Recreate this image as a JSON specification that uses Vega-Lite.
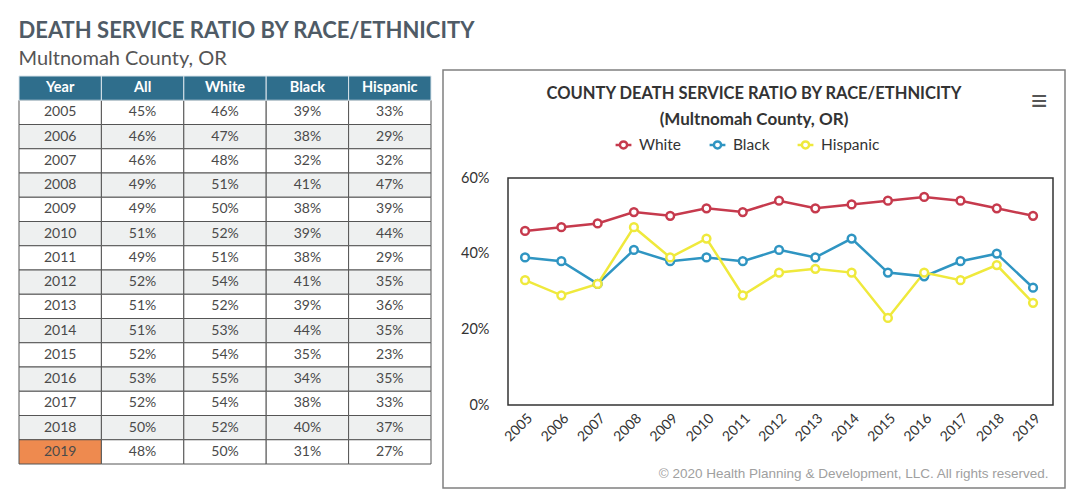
{
  "$schema": "https://vega.github.io/schema/vega-lite/v6.json",
  "background": "white",
  "padding": {"left": 18, "top": 20, "right": 20, "bottom": 12},
  "title": {
    "text": "DEATH SERVICE RATIO BY RACE/ETHNICITY",
    "subtitle": "Multnomah County, OR",
    "anchor": "start",
    "font": "Lato",
    "fontSize": 22,
    "fontWeight": "bold",
    "color": "#4f5b66",
    "subtitleFont": "Lato",
    "subtitleFontSize": 20,
    "subtitleColor": "#555555",
    "subtitlePadding": 6,
    "offset": -1
  },
  "datasets": {
    "rates": [
      {"Year": 2005, "All": 0.45, "White": 0.46, "Black": 0.39, "Hispanic": 0.33},
      {"Year": 2006, "All": 0.46, "White": 0.47, "Black": 0.38, "Hispanic": 0.29},
      {"Year": 2007, "All": 0.46, "White": 0.48, "Black": 0.32, "Hispanic": 0.32},
      {"Year": 2008, "All": 0.49, "White": 0.51, "Black": 0.41, "Hispanic": 0.47},
      {"Year": 2009, "All": 0.49, "White": 0.50, "Black": 0.38, "Hispanic": 0.39},
      {"Year": 2010, "All": 0.51, "White": 0.52, "Black": 0.39, "Hispanic": 0.44},
      {"Year": 2011, "All": 0.49, "White": 0.51, "Black": 0.38, "Hispanic": 0.29},
      {"Year": 2012, "All": 0.52, "White": 0.54, "Black": 0.41, "Hispanic": 0.35},
      {"Year": 2013, "All": 0.51, "White": 0.52, "Black": 0.39, "Hispanic": 0.36},
      {"Year": 2014, "All": 0.51, "White": 0.53, "Black": 0.44, "Hispanic": 0.35},
      {"Year": 2015, "All": 0.52, "White": 0.54, "Black": 0.35, "Hispanic": 0.23},
      {"Year": 2016, "All": 0.53, "White": 0.55, "Black": 0.34, "Hispanic": 0.35},
      {"Year": 2017, "All": 0.52, "White": 0.54, "Black": 0.38, "Hispanic": 0.33},
      {"Year": 2018, "All": 0.50, "White": 0.52, "Black": 0.40, "Hispanic": 0.37},
      {"Year": 2019, "All": 0.48, "White": 0.50, "Black": 0.31, "Hispanic": 0.27}
    ],
    "header": [
      {"h": "Year"}, {"h": "All"}, {"h": "White"}, {"h": "Black"}, {"h": "Hispanic"}
    ]
  },
  "spacing": 10,
  "hconcat": [
    {
      "width": 412,
      "height": 394,
      "view": {"stroke": null},
      "layer": [
        {
          "data": {"name": "rates"},
          "transform": [{"fold": ["Year", "All", "White", "Black", "Hispanic"], "as": ["col", "val"]}],
          "mark": {"type": "rect", "stroke": "#555555", "strokeWidth": 1},
          "encoding": {
            "x": {"field": "col", "type": "nominal",
              "scale": {"domain": ["Year", "All", "White", "Black", "Hispanic"], "paddingInner": 0, "paddingOuter": 0},
              "axis": null},
            "y": {"field": "Year", "type": "ordinal",
              "scale": {"domain": ["Year", 2005, 2006, 2007, 2008, 2009, 2010, 2011, 2012, 2013, 2014, 2015, 2016, 2017, 2018, 2019], "range": [6, 394], "paddingInner": 0, "paddingOuter": 0},
              "axis": null},
            "fill": {
              "condition": [
                {"test": "datum.col == 'Year' && datum.Year == 2019", "value": "#ee8a4f"},
                {"test": "datum.Year % 2 == 0", "value": "#eef0f0"}
              ],
              "value": "#ffffff"
            }
          }
        },
        {
          "data": {"name": "rates"},
          "mark": {"type": "text", "font": "Lato", "fontSize": 14, "color": "#4a4a4a"},
          "encoding": {
            "x": {"datum": "Year", "type": "nominal"},
            "y": {"field": "Year", "type": "ordinal"},
            "text": {"field": "Year", "type": "ordinal"}
          }
        },
        {
          "data": {"name": "rates"},
          "transform": [{"fold": ["All", "White", "Black", "Hispanic"], "as": ["col", "val"]}],
          "mark": {"type": "text", "font": "Lato", "fontSize": 14, "color": "#4a4a4a"},
          "encoding": {
            "x": {"field": "col", "type": "nominal"},
            "y": {"field": "Year", "type": "ordinal"},
            "text": {"field": "val", "type": "quantitative", "format": ".0%"}
          }
        },
        {
          "data": {"name": "header"},
          "mark": {"type": "rect", "fill": "#2f6e8c", "stroke": "#d8e3ea", "strokeWidth": 1},
          "encoding": {
            "x": {"field": "h", "type": "nominal"},
            "y": {"datum": "Year", "type": "ordinal"}
          }
        },
        {
          "data": {"name": "header"},
          "mark": {"type": "text", "font": "Lato", "fontSize": 14.5, "fontWeight": "bold", "color": "#ffffff"},
          "encoding": {
            "x": {"field": "h", "type": "nominal"},
            "y": {"datum": "Year", "type": "ordinal"},
            "text": {"field": "h", "type": "nominal"}
          }
        }
      ]
    },
    {
      "width": 622,
      "height": 418,
      "view": {"stroke": "#808080", "strokeWidth": 1.5},
      "title": {
        "text": "COUNTY DEATH SERVICE RATIO BY RACE/ETHNICITY",
        "subtitle": "(Multnomah County, OR)",
        "offset": -58,
        "anchor": "middle",
        "frame": "group",
        "font": "Lato",
        "fontSize": 16.5,
        "fontWeight": "bold",
        "color": "#333333",
        "subtitleFont": "Lato",
        "subtitleFontSize": 17,
        "subtitleFontWeight": "bold",
        "subtitleColor": "#333333",
        "subtitlePadding": 10
      },
      "layer": [
        {
          "data": {"values": [{}]},
          "mark": {"type": "rect", "fill": null, "stroke": "#333333", "strokeWidth": 1.5},
          "encoding": {
            "x": {"datum": 2004.53, "type": "quantitative", "scale": {"domain": [2004.53, 2019.55], "range": [65, 610], "nice": false, "zero": false}},
            "x2": {"datum": 2019.55},
            "y": {"datum": 0, "type": "quantitative", "scale": {"domain": [0, 0.6], "range": [335, 108], "nice": false, "zero": false}},
            "y2": {"datum": 0.6}
          }
        },
        {
          "data": {"name": "rates"},
          "transform": [{"fold": ["White", "Black", "Hispanic"], "as": ["group", "val"]}],
          "mark": {"type": "line", "strokeWidth": 2.5, "point": {"filled": false, "fill": "white", "size": 60, "strokeWidth": 2.5}},
          "encoding": {
            "x": {"field": "Year", "type": "quantitative",
              "scale": {"domain": [2004.53, 2019.55], "range": [65, 610], "nice": false, "zero": false},
              "axis": {"orient": "bottom", "offset": -83, "values": [2005, 2006, 2007, 2008, 2009, 2010, 2011, 2012, 2013, 2014, 2015, 2016, 2017, 2018, 2019],
                "format": "d", "labelAngle": -45, "labelFont": "Lato", "labelFontSize": 14, "labelColor": "#333333",
                "ticks": false, "domain": false, "grid": false, "labelPadding": 6,
                "title": "© 2020 Health Planning & Development, LLC. All rights reserved.",
                "titleX": 605, "titleAlign": "right", "titleFont": "Liberation Sans", "titleFontSize": 13.5, "titleFontWeight": "normal",
                "titleColor": "#a0a0a0", "titleBaseline": "middle", "titleY": 68}},
            "y": {"field": "val", "type": "quantitative",
              "scale": {"domain": [0, 0.6], "range": [335, 108], "nice": false, "zero": false},
              "axis": {"orient": "left", "offset": -65, "values": [0, 0.2, 0.4, 0.6], "format": ".0%",
                "ticks": false, "domain": false, "grid": false, "labelPadding": 19,
                "labelFont": "Lato", "labelFontSize": 14.5, "labelColor": "#333333", "title": null}},
            "color": {"field": "group", "type": "nominal",
              "scale": {"domain": ["White", "Black", "Hispanic"], "range": ["#c63a4d", "#2f95c2", "#efe93c"]},
              "legend": {"orient": "none", "legendX": 595, "legendY": 65, "direction": "horizontal", "title": null,
                "labelFont": "Lato", "labelFontSize": 15.5, "labelColor": "#333333", "labelOffset": 6,
                "symbolType": "M-1,0L-0.45,0M0.45,0L1,0M-0.45,0A0.45,0.45 0 1,1 0.45,0A0.45,0.45 0 1,1 -0.45,0Z",
                "symbolSize": 250, "symbolStrokeWidth": 2.5, "symbolFillColor": "white", "columnPadding": 22}}
          }
        },
        {
          "data": {"values": [{"icon": "≡"}]},
          "mark": {"type": "text", "fontSize": 28, "color": "#555555", "baseline": "middle"},
          "encoding": {
            "x": {"datum": 2019.17, "type": "quantitative"},
            "y": {"datum": 0.8, "type": "quantitative"},
            "text": {"field": "icon", "type": "nominal"}
          }
        }
      ]
    }
  ]
}
